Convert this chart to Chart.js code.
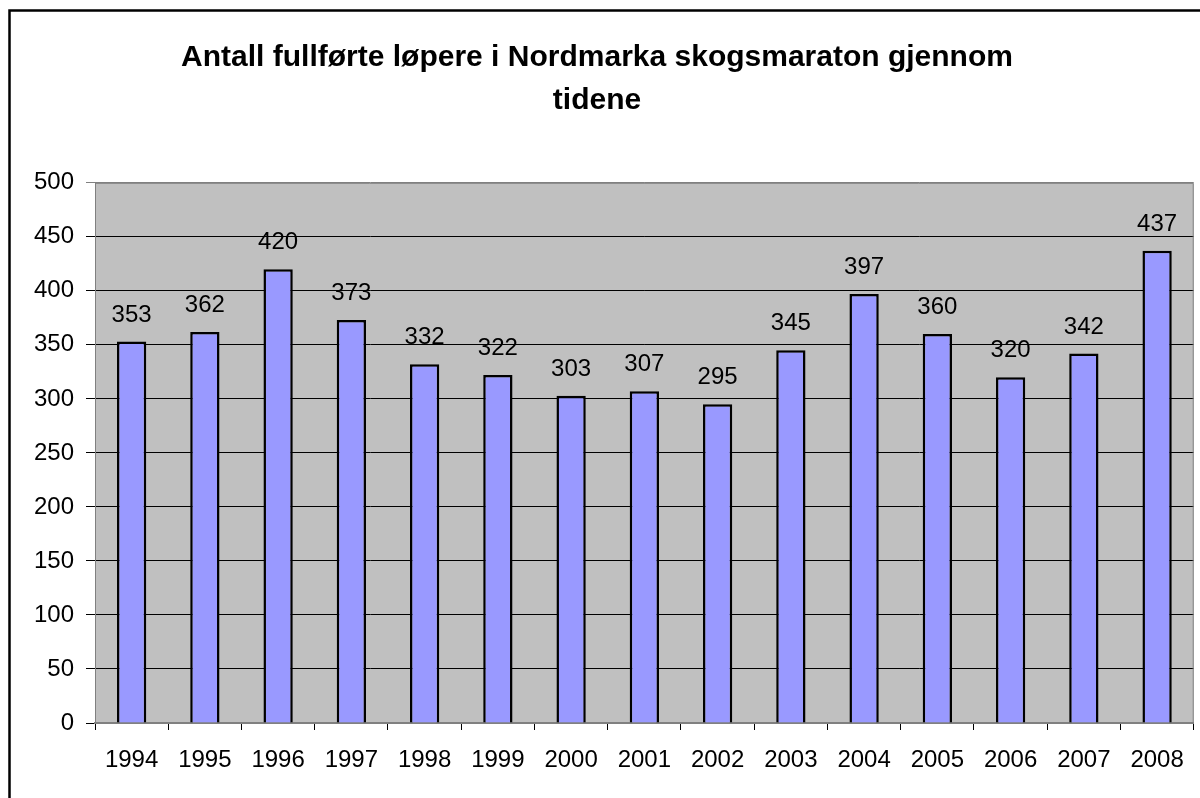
<!DOCTYPE html>
<html>
<head>
<meta charset="utf-8">
<script src="https://cdn.jsdelivr.net/npm/chart.js@4"></script>
<style>
  html, body { margin: 0; padding: 0; background: #fff; }
  #wrap { width: 1200px; height: 798px; }
</style>
</head>
<body>
<div id="wrap"><canvas id="barChart" width="1200" height="798"></canvas></div>
<script>
// Data for the chart
const years = ['1994', '1995', '1996', '1997', '1998', '1999', '2000', '2001',
               '2002', '2003', '2004', '2005', '2006', '2007', '2008'];
const finishers = [353, 362, 420, 373, 332, 322, 303, 307, 295, 345, 397, 360, 320, 342, 437];
const titleLines = ['Antall fullførte løpere i Nordmarka skogsmaraton gjennom', 'tidene'];

const FONT = '"Liberation Sans", Arial, sans-serif';

// Gray plot background + outer frame
const backdrop = {
    id: 'backdrop',
    beforeDraw(chart) {
        const { ctx, chartArea: a } = chart;
        ctx.save();
        ctx.fillStyle = '#fff';
        ctx.fillRect(0, 0, chart.width, chart.height);
        ctx.fillStyle = '#c0c0c0';
        ctx.fillRect(a.left, a.top, a.right - a.left, a.bottom - a.top);
        ctx.restore();
    },
    afterDraw(chart) {
        const { ctx, chartArea: a } = chart;
        ctx.save();
        ctx.strokeStyle = '#808080';
        ctx.lineWidth = 1;
        ctx.beginPath();
        ctx.moveTo(a.left, a.top + 0.5);
        ctx.lineTo(a.right - 0.5, a.top + 0.5);
        ctx.lineTo(a.right - 0.5, a.bottom);
        ctx.stroke();
        ctx.strokeStyle = '#000';
        ctx.lineWidth = 2.5;
        ctx.strokeRect(9.5, 10.5, 1400, 1000);
        ctx.restore();
    }
};

// Value labels above the bars
const valueLabels = {
    id: 'valueLabels',
    afterDatasetsDraw(chart) {
        const { ctx } = chart;
        const meta = chart.getDatasetMeta(0);
        ctx.save();
        ctx.font = '24px ' + FONT;
        ctx.fillStyle = '#000';
        ctx.textAlign = 'center';
        ctx.textBaseline = 'alphabetic';
        meta.data.forEach((bar, i) => {
            ctx.fillText(String(finishers[i]), bar.x, bar.y - 20);
        });
        ctx.restore();
    }
};

const ctx = document.getElementById('barChart').getContext('2d');

const config = {
    type: 'bar',
    data: {
        labels: years,
        datasets: [{
            data: finishers,
            backgroundColor: '#9999ff',
            borderColor: '#000',
            borderWidth: 2.5,
            barPercentage: 0.4,
            categoryPercentage: 1,
        }],
    },
    options: {
        responsive: false,
        animation: false,
        layout: { padding: { top: 0, right: 6, bottom: 0, left: 0 } },
        plugins: {
            legend: { display: false },
            tooltip: { enabled: false },
            title: {
                display: true,
                text: titleLines,
                color: '#000',
                font: { family: FONT, size: 30, weight: 'bold', lineHeight: 1.43 },
                padding: { top: 36, bottom: 61 },
            },
        },
        scales: {
            x: {
                afterFit(scale) { scale.height = 75; },
                grid: {
                    display: true,
                    drawOnChartArea: false,
                    offset: true,
                    color: '#000',
                    tickLength: 7,
                },
                border: { color: '#808080', width: 2 },
                ticks: {
                    color: '#000',
                    padding: 16,
                    font: { family: FONT, size: 24 },
                },
            },
            y: {
                min: 0,
                max: 500,
                afterFit(scale) { scale.width = 95; },
                ticks: {
                    stepSize: 50,
                    color: '#000',
                    padding: 12,
                    font: { family: FONT, size: 24 },
                },
                grid: {
                    color: (c) => (c.tick && c.tick.value === 500 ? '#808080' : '#000'),
                    tickLength: 9,
                },
                border: { color: '#808080', width: 1 },
            },
        },
    },
    plugins: [backdrop, valueLabels],
};

const barChart = new Chart(ctx, config);
</script>
</body>
</html>
